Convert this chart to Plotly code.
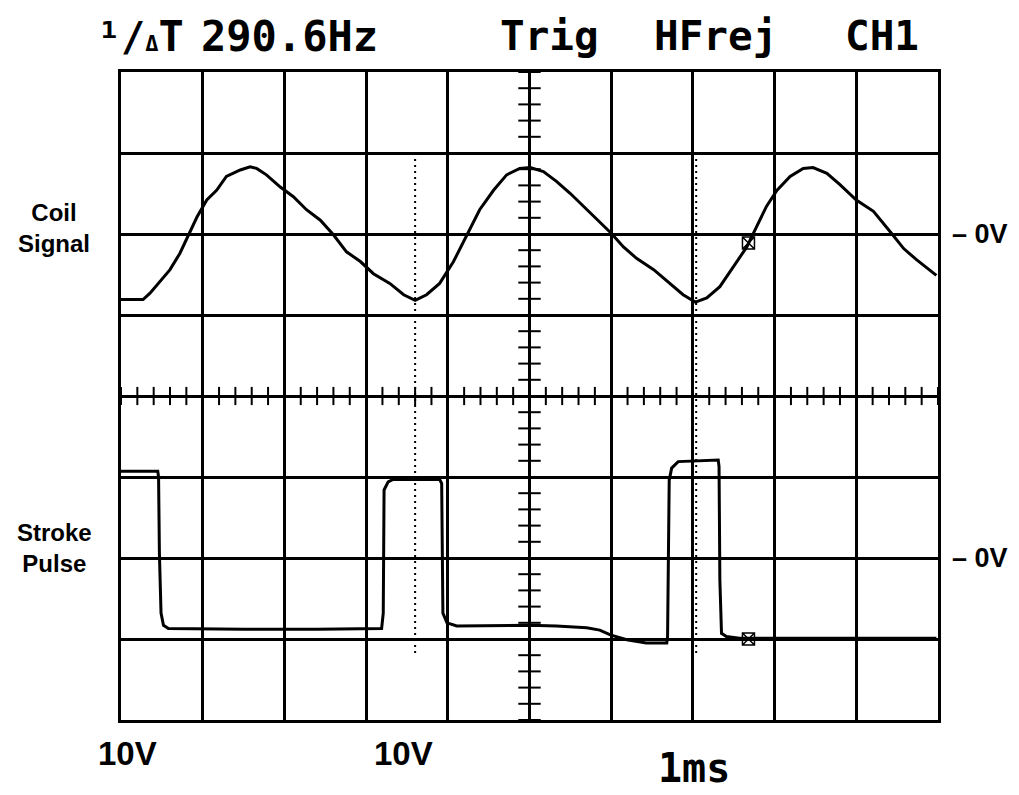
import numpy as np
import plotly.graph_objects as go

# ---- data (time in ms, values in volts) ----
coil_t = [0.00, 0.27, 0.355, 0.477, 0.60, 0.72, 0.82, 0.93, 1.05, 1.17, 1.29, 1.46, 1.58, 1.66,
          1.78, 1.95, 2.11, 2.27, 2.44, 2.60, 2.76, 2.93, 3.09, 3.29, 3.46, 3.60, 3.74, 3.90,
          4.07, 4.23, 4.39, 4.56, 4.72, 4.88, 5.01, 5.17, 5.33, 5.50, 5.66, 5.82, 6.00, 6.15,
          6.31, 6.52, 6.72, 6.88, 7.03, 7.17, 7.33, 7.49, 7.66, 7.78, 7.90, 8.03, 8.19, 8.35,
          8.47, 8.64, 8.80, 9.00, 9.21, 9.43, 9.58, 9.74, 9.98]
coil_v = [-8.1, -8.1, -7.3, -5.9, -4.4, -2.4, -0.3, 2.1, 4.2, 5.4, 7.1, 7.9, 8.3, 8.1,
          7.3, 5.8, 4.6, 3.0, 1.7, -0.1, -2.2, -3.4, -4.9, -6.1, -7.5, -8.2, -7.5, -6.1,
          -3.4, -0.3, 3.0, 5.4, 7.3, 8.1, 8.2, 7.7, 6.5, 5.0, 3.4, 1.9, 0.1, -1.6,
          -3.0, -4.4, -6.1, -7.5, -8.4, -7.9, -6.5, -4.2, -1.6, 0.9, 3.4, 5.4, 7.1, 8.1,
          8.2, 7.5, 6.1, 4.2, 2.8, 0.1, -1.8, -3.2, -5.1]

stroke_t = [0.00, 0.45, 0.46, 0.47, 0.49, 0.52, 0.58, 1.50, 2.40, 3.19, 3.21, 3.22, 3.27, 3.33,
            3.90, 3.925, 3.94, 3.99, 4.11, 5.00, 5.33, 5.70, 5.86, 5.99, 6.19, 6.43, 6.68,
            6.69, 6.71, 6.74, 6.82, 7.00, 7.31, 7.32, 7.33, 7.35, 7.41, 7.57, 9.98]
stroke_v = [10.7, 10.7, 10.0, 0.6, -6.8, -8.3, -8.7, -8.8, -8.8, -8.7, -6.8, 8.4, 9.4, 9.7,
            9.7, 9.2, -6.8, -8.0, -8.4, -8.3, -8.4, -8.6, -8.9, -9.5, -10.1, -10.5, -10.5,
            -9.7, 9.6, 11.1, 11.9, 12.0, 12.1, 11.3, -2.7, -9.3, -9.7, -9.9, -9.9]

cursor_t = [3.60, 7.04]
marker_t = [7.68]
coil_marker_v = [-1.1]
stroke_marker_v = [-10.0]

volts_div = ["10V", "10V"]
time_div = "1ms"
channel_names = ["Coil<br>Signal", "Stroke<br>Pulse"]
readout_value = "290.6Hz"
status_words = ["Trig", "HFrej", "CH1"]

BLACK = "black"
MONO = "DejaVu Sans Mono"
SANS = "Liberation Sans"

fig = go.Figure()

# graticule centre-line minor ticks (5 per division)
tick_x = np.round(np.arange(0, 10.001, 0.2), 2)
tick_y = np.round(np.arange(-4, 4.001, 0.2), 2)
fig.add_trace(go.Scatter(x=tick_x, y=np.zeros_like(tick_x), mode="markers",
                         marker=dict(symbol="line-ns", size=13, color=BLACK,
                                     line=dict(width=2, color=BLACK)),
                         hoverinfo="skip", showlegend=False))
fig.add_trace(go.Scatter(x=np.full_like(tick_y, 5.0), y=tick_y, mode="markers",
                         marker=dict(symbol="line-ew", size=16, color=BLACK,
                                     line=dict(width=2, color=BLACK)),
                         hoverinfo="skip", showlegend=False))

# traces
fig.add_trace(go.Scatter(x=coil_t, y=coil_v, mode="lines", yaxis="y2",
                         line=dict(color=BLACK, width=3), showlegend=False))
fig.add_trace(go.Scatter(x=stroke_t, y=stroke_v, mode="lines", yaxis="y3",
                         line=dict(color=BLACK, width=3), showlegend=False))
fig.add_trace(go.Scatter(x=marker_t, y=coil_marker_v, mode="markers", yaxis="y2",
                         marker=dict(symbol="square-x-open", size=12, color=BLACK,
                                     line=dict(width=1.5, color=BLACK)), showlegend=False))
fig.add_trace(go.Scatter(x=marker_t, y=stroke_marker_v, mode="markers", yaxis="y3",
                         marker=dict(symbol="square-x-open", size=12, color=BLACK,
                                     line=dict(width=1.5, color=BLACK)), showlegend=False))

# cursors
shapes = []
for c in cursor_t:
    shapes.append(dict(type="line", xref="x", yref="y", x0=c, x1=c, y0=3.0, y1=-3.2,
                       line=dict(color=BLACK, width=2, dash="2px,4px")))

ann = []
# channel labels
ann.append(dict(text="<b>%s</b>" % channel_names[0], xref="paper", yref="paper",
                x=-0.082, y=0.760, showarrow=False, xanchor="center", yanchor="middle",
                font=dict(family=SANS, size=24, color=BLACK)))
ann.append(dict(text="<b>%s</b>" % channel_names[1], xref="paper", yref="paper",
                x=-0.082, y=0.265, showarrow=False, xanchor="center", yanchor="middle",
                font=dict(family=SANS, size=24, color=BLACK)))
# 0V markers
ann.append(dict(text="<b>– 0V</b>", xref="paper", yref="y2", x=1.0, y=0, xshift=12,
                showarrow=False, xanchor="left", yanchor="middle",
                font=dict(family=SANS, size=27, color=BLACK)))
ann.append(dict(text="<b>– 0V</b>", xref="paper", yref="y3", x=1.0, y=0, xshift=12,
                showarrow=False, xanchor="left", yanchor="middle",
                font=dict(family=SANS, size=27, color=BLACK)))
# bottom scale readouts
ann.append(dict(text="<b>%s</b>" % volts_div[0], xref="paper", yref="paper", x=0.008, y=-0.052,
                showarrow=False, xanchor="center", yanchor="middle",
                font=dict(family=SANS, size=33, color=BLACK)))
ann.append(dict(text="<b>%s</b>" % volts_div[1], xref="paper", yref="paper", x=0.346, y=-0.052,
                showarrow=False, xanchor="center", yanchor="middle",
                font=dict(family=SANS, size=33, color=BLACK)))
ann.append(dict(text="<b>%s</b>" % time_div, xref="paper", yref="paper", x=0.701, y=-0.074,
                showarrow=False, xanchor="center", yanchor="middle",
                font=dict(family=MONO, size=40, color=BLACK)))
# top readout
ann.append(dict(text="<b><span style='font-size:40px'>¹/</span><span style='font-size:22px'>Δ</span>T</b>",
                xref="paper", yref="paper", x=-0.032, y=1.055, showarrow=False,
                xanchor="left", yanchor="middle", font=dict(family=MONO, size=42, color=BLACK)))
ann.append(dict(text="<b>%s</b>" % readout_value, xref="paper", yref="paper", x=0.206, y=1.055,
                showarrow=False, xanchor="center", yanchor="middle",
                font=dict(family=MONO, size=42, color=BLACK)))
for w, xp in zip(status_words, [0.525, 0.728, 0.931]):
    ann.append(dict(text="<b>%s</b>" % w, xref="paper", yref="paper", x=xp, y=1.055,
                    showarrow=False, xanchor="center", yanchor="middle",
                    font=dict(family=MONO, size=41, color=BLACK)))

axis_common = dict(showgrid=True, gridcolor=BLACK, gridwidth=2.5, zeroline=False,
                   showline=True, linecolor=BLACK, linewidth=3, mirror=True,
                   showticklabels=False, ticks="", fixedrange=True)

fig.update_layout(
    width=1019, height=795,
    margin=dict(l=121, r=81, t=72, b=75),
    paper_bgcolor="white", plot_bgcolor="white",
    xaxis=dict(range=[0, 10], dtick=1, tick0=0, **axis_common),
    yaxis=dict(range=[-4, 4], dtick=1, tick0=0, **axis_common),
    yaxis2=dict(range=[-60, 20], overlaying="y", visible=False, fixedrange=True),
    yaxis3=dict(range=[-20, 60], overlaying="y", visible=False, fixedrange=True),
    shapes=shapes, annotations=ann, showlegend=False,
)

fig.write_html("out.html")
